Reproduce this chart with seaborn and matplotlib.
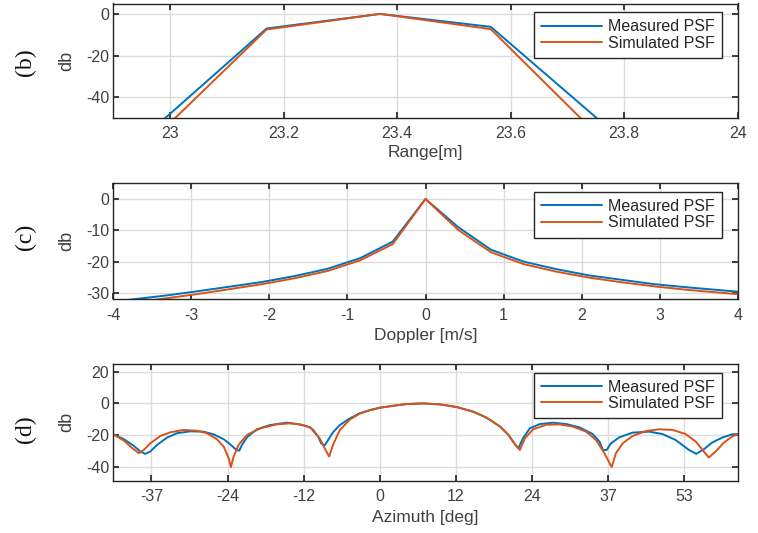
import numpy as np
import pandas as pd
import matplotlib
matplotlib.use("Agg")
import matplotlib.pyplot as plt
import seaborn as sns

# ---------------- data ----------------
# (b) Range
range_m = [22.975, 23.17, 23.37, 23.565, 23.76]
range_measured = [-54.0, -7.0, 0.0, -6.2, -52.0]
range_simulated = [-59.0, -7.5, 0.0, -7.3, -60.0]

# (c) Doppler
doppler = [-4.2, -3.78, -3.36, -2.94, -2.52, -2.1, -1.68, -1.26, -0.84, -0.42, 0.0,
           0.42, 0.84, 1.26, 1.68, 2.1, 2.52, 2.94, 3.36, 3.78, 4.2]
doppler_measured = [-33.5, -32.1, -30.9, -29.5, -28.0, -26.5, -24.6, -22.3, -18.9, -13.6, 0.0,
                    -9.0, -16.2, -20.0, -22.4, -24.4, -25.8, -27.2, -28.2, -29.1, -30.0]
doppler_simulated = [-34.6, -33.2, -31.8, -30.4, -28.8, -27.2, -25.3, -23.0, -19.6, -14.4, 0.0,
                     -9.9, -17.0, -20.8, -23.2, -25.1, -26.6, -27.9, -29.0, -29.9, -30.8]

# (d) Azimuth (sine space)
az_measured_u = [-0.700, -0.672, -0.646, -0.629, -0.616, -0.603, -0.585, -0.559, -0.533,
                 -0.498, -0.463, -0.437, -0.410, -0.393, -0.377, -0.369, -0.362, -0.349,
                 -0.323, -0.288, -0.245, -0.210, -0.183, -0.175, -0.162, -0.154, -0.145,
                 -0.123, -0.105, -0.079, -0.053, -0.026, 0.0, 0.035, 0.070, 0.114, 0.158,
                 0.202, 0.246, 0.281, 0.316, 0.338, 0.356, 0.364, 0.376, 0.394, 0.420,
                 0.455, 0.490, 0.525, 0.559, 0.577, 0.586, 0.596, 0.607, 0.629, 0.664,
                 0.708, 0.742, 0.777, 0.812, 0.831, 0.851, 0.873, 0.899, 0.925, 0.940]
az_measured_db = [-19.6, -22.7, -26.9, -30.5, -32.0, -30.5, -26.3, -21.7, -18.9,
                  -17.7, -17.9, -19.6, -22.7, -25.9, -29.5, -29.9, -26.3, -21.5,
                  -16.4, -13.7, -12.2, -13.3, -15.2, -16.8, -21.0, -25.3, -26.7,
                  -18.3, -13.7, -9.5, -6.3, -4.2, -2.7, -1.5, -0.4, 0.0, -0.6,
                  -2.3, -5.3, -9.1, -14.7, -20.0, -26.3, -28.4, -22.1, -15.8, -13.1,
                  -12.2, -13.1, -15.2, -19.4, -24.2, -29.5, -29.5, -25.3, -21.5, -18.5,
                  -17.9, -19.4, -23.2, -29.5, -32.0, -29.1, -24.8, -21.7, -19.6, -19.4]
az_simulated_u = [-0.700, -0.672, -0.655, -0.633, -0.620, -0.603, -0.576, -0.550, -0.515,
                  -0.480, -0.454, -0.428, -0.410, -0.397, -0.391, -0.384, -0.371, -0.349,
                  -0.314, -0.271, -0.236, -0.201, -0.183, -0.175, -0.158, -0.145, -0.133,
                  -0.123, -0.105, -0.079, -0.053, -0.026, 0.0, 0.035, 0.070, 0.114, 0.158,
                  0.202, 0.246, 0.281, 0.316, 0.338, 0.356, 0.368, 0.381, 0.403, 0.437,
                  0.472, 0.507, 0.542, 0.568, 0.590, 0.609, 0.620, 0.638, 0.664, 0.699,
                  0.734, 0.769, 0.803, 0.830, 0.851, 0.864, 0.882, 0.904, 0.925, 0.940]
az_simulated_db = [-19.6, -23.6, -27.4, -31.6, -29.5, -25.3, -20.6, -18.3, -16.8,
                   -17.3, -18.9, -22.7, -27.4, -34.7, -40.4, -33.7, -26.3, -20.0,
                   -15.8, -13.3, -12.6, -13.7, -15.2, -17.5, -22.1, -28.4, -33.7,
                   -26.3, -16.8, -10.3, -6.5, -4.3, -2.8, -1.5, -0.4, 0.0, -0.6,
                   -2.3, -5.3, -9.1, -14.7, -20.0, -26.3, -29.5, -22.1, -16.4, -13.5,
                   -13.3, -14.7, -17.9, -23.2, -31.6, -40.4, -31.6, -25.3, -20.6, -17.5,
                   -16.4, -16.8, -19.4, -24.2, -30.5, -34.3, -30.5, -24.8, -21.0, -19.6]
az_ticks = [-0.6, -0.4, -0.2, 0.0, 0.2, 0.4, 0.6, 0.8]
az_ticklabels = ["-37", "-24", "-12", "0", "12", "24", "37", "53"]

series_names = ["Measured PSF", "Simulated PSF"]
colors = ["#0072BD", "#D95319"]

# ---------------- style ----------------
sns.set_theme(style="ticks")
plt.rcParams["font.family"] = ["Liberation Sans", "DejaVu Sans"]
axcol = "#262626"
txtcol = "#404040"
plt.rcParams.update({
    "axes.unicode_minus": False,
    "axes.edgecolor": axcol,
    "axes.linewidth": 1.0,
    "xtick.color": axcol,
    "ytick.color": axcol,
    "xtick.labelcolor": txtcol,
    "ytick.labelcolor": txtcol,
    "xtick.direction": "in",
    "ytick.direction": "in",
    "xtick.top": True,
    "ytick.right": True,
    "xtick.major.size": 4,
    "ytick.major.size": 4,
    "xtick.labelsize": 11.5,
    "ytick.labelsize": 11.5,
    "axes.labelsize": 12.5,
    "axes.labelcolor": txtcol,
})

fig = plt.figure(figsize=(7.58, 5.33), dpi=100)
W, H = 758, 533
LEFT, RIGHT = 113.3, 737.7

def make_ax(top_px, bot_px):
    return fig.add_axes([LEFT / W, 1 - bot_px / H, (RIGHT - LEFT) / W,
                         (bot_px - top_px) / H])

panels = [(3.5, 118.0), (183.3, 299.3), (364.0, 480.7)]
ax_b, ax_c, ax_d = [make_ax(t, b) for t, b in panels]

def plot_series(ax, xs, ys):
    for x, y, name, c in zip(xs, ys, series_names, colors):
        df = pd.DataFrame({"x": x, "y": y})
        sns.lineplot(data=df, x="x", y="y", ax=ax, color=c, lw=1.4, label=name,
                     sort=False, estimator=None)

plot_series(ax_b, [range_m, range_m], [range_measured, range_simulated])
plot_series(ax_c, [doppler, doppler], [doppler_measured, doppler_simulated])
plot_series(ax_d, [az_measured_u, az_simulated_u], [az_measured_db, az_simulated_db])

# axes settings
ax_b.set_xlim(22.9, 24.0)
ax_b.set_ylim(-50, 5)
ax_b.set_xticks([23, 23.2, 23.4, 23.6, 23.8, 24])
ax_b.set_xticklabels(["23", "23.2", "23.4", "23.6", "23.8", "24"])
ax_b.set_yticks([0, -20, -40])
ax_b.set_xlabel("Range[m]")

ax_c.set_xlim(-4, 4)
ax_c.set_ylim(-32, 5)
ax_c.set_xticks([-4, -3, -2, -1, 0, 1, 2, 3, 4])
ax_c.set_yticks([0, -10, -20, -30])
ax_c.set_xlabel("Doppler [m/s]")

ax_d.set_xlim(-0.70, 0.94)
ax_d.set_ylim(-49, 25)
ax_d.set_xticks(az_ticks)
ax_d.set_xticklabels(az_ticklabels)
ax_d.set_yticks([20, 0, -20, -40])
ax_d.set_xlabel("Azimuth [deg]")

xlabel_offsets = [27, 29, 29]
for ax, (t, b), xoff in zip([ax_b, ax_c, ax_d], panels, xlabel_offsets):
    hpx = b - t
    ax.set_ylabel("db", fontsize=13)
    ax.yaxis.set_label_coords((75 - LEFT) / (RIGHT - LEFT), 0.5)
    ax.xaxis.set_label_coords(0.5, -xoff / hpx)
    ax.grid(True, color="#dcdcdc", lw=1.0)
    ax.set_axisbelow(True)
    ax.tick_params(axis="y", pad=3)
    ax.tick_params(axis="x", pad=6)
    top_frac = 1 - 8.6 / hpx
    leg = ax.legend(loc="upper right", bbox_to_anchor=((721.7 - LEFT) / (RIGHT - LEFT), top_frac),
                    borderaxespad=0, frameon=True, fancybox=False, fontsize=11.5,
                    handlelength=3.8, handletextpad=0.35, labelspacing=0.08,
                    borderpad=0.45, edgecolor=axcol, framealpha=1)
    leg.get_frame().set_linewidth(1.0)
    for txt in leg.get_texts():
        txt.set_color("#262626")

# panel letters
for label, yc in [("(b)", 62), ("(c)", 237), ("(d)", 429)]:
    fig.text(25 / W, 1 - yc / H, label, rotation=90, ha="center", va="center",
             fontsize=17, family=["Liberation Serif", "DejaVu Serif"], color="#111111")

fig.savefig("out.png", dpi=100)
